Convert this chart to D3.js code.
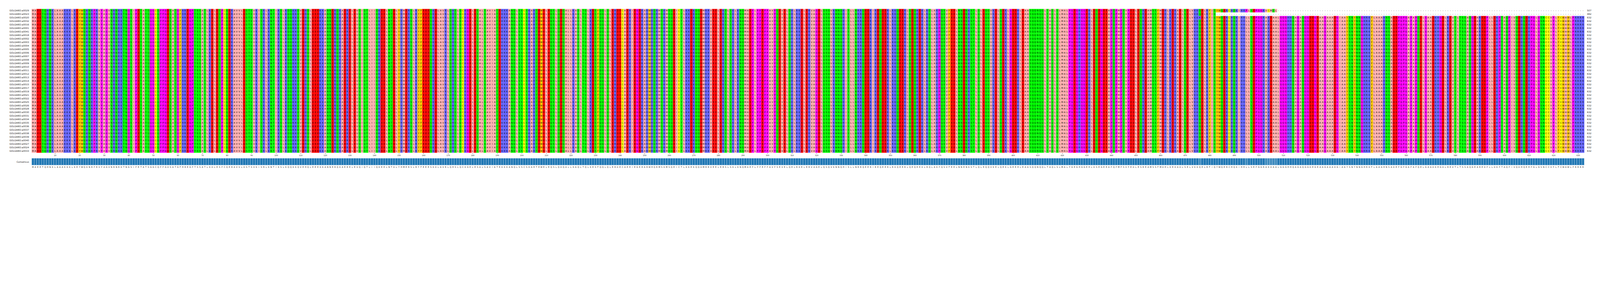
<!DOCTYPE html>
<html><head><meta charset="utf-8">
<script src="https://cdn.jsdelivr.net/npm/d3@7"></script>
<style>html,body{margin:0;background:#fff;overflow:hidden}svg{display:block;width:100vw;height:auto}text{font-family:"DejaVu Sans",sans-serif}</style>
</head><body><svg id="c" viewBox="0 0 6565 726" preserveAspectRatio="xMinYMin meet"></svg>
<script>
const consensusParts = [
"MAEETQHNKLAAAKKKLKEYWQKNRPRVPAGVNRNRKTNGSIPETATSGGCQPPGDSATGFHREGPTSSATLKDLESPC",
"QERAVVLDSTSVKISRLKNTIKSLKQQKKQVEHQLEEEKKANNERQKAERELEVQIQTLIIQKEELNTDLYHMERSLRYF",
"EEESKDLAVRLQHSLQCKGELESALSAVIATEKKKANQLSSCSKAHTEWELEQSLQDQALLKAQLTQLKESFQQLQLERD",
"ECAEHIEGERARWHQRMSKMSQEICTLKKEKQQDMRRVEELERSLSKLKNQMAEPLPPEPPAVPSEVELQHLRKELERVA",
"GELQSQVKNNQHISLLNRRQEERIREQEERLRKQEERLQEQHEKLRQLAKPQSVFEELNNENKSTLQLEQQVKELQEKLG",
"EEHLEAASQQNQQLTAQLSLMALPGEGHGGEHLDSEGEEAPQPMPSVPEDLESREAMSSFMDHLKEKADLSELVKKQELR",
"FIQYWQERCHQKIHHLLSEPGGRAKDAALGGGHHQAGAQGGDEGEAAGAAADGIAAYSNYNNGHRKFLAAAHNSADEPGP",
"GAPAPQELGAADKHGDLREVTLTSSAQGEAREDPLLDKPTAQPIVQDHQEHPGLGSNCCVPLFCWAWLPRRRR"];
const rowLabels = ["a0029","a0023","a0020","a0032","a0016","a0001","a0041","a0018",
"a0002","a0003","a0004","a0005","a0006","a0007","a0008","a0009","a0010","a0011","a0012","a0013",
"a0014","a0015","a0017","a0019","a0021","a0022","a0025","a0026","a0028","a0030","a0031","a0034",
"a0035","a0036","a0037","a0038","a0039","a0040","a0027","a0024","a0033"].map(d=>"GOLGA8O:"+d);
const rowLengths = [507,482];  // others 632
// variants: [row, column(0-based), residue]
const variants = [[0,494,"P"],[0,502,"V"],[0,503,"C"],[0,504,"M"],[0,505,"Q"],[0,506,"L"],[2,475,"K"]];
const tickValues = d3.range(10,633,10);

const cons = consensusParts.join("").split("");
const N = cons.length, R = rowLabels.length;
const rows = rowLabels.map((l,i)=>{
  const len = rowLengths[i] || N;
  return cons.map((c,j)=> j<len? c : "-");
});
variants.forEach(([r,c,a])=>{rows[r][c]=a;});
const colors = {A:"#ffafaf",I:"#ffafaf",L:"#ffafaf",M:"#ffafaf",V:"#ffafaf",F:"#ffc800",W:"#ffc800",Y:"#ffc800",
K:"#6464ff",R:"#6464ff",H:"#6464ff",D:"#ff0000",E:"#ff0000",S:"#00ff00",T:"#00ff00",N:"#00ff00",Q:"#00ff00",
P:"#ff00ff",G:"#ff00ff",C:"#ffff00","-":"#ffffff"};

const svg = d3.select("#c");
const x = d3.scaleBand().domain(d3.range(N)).range([130,130+N*10.08]).padding(0);
const y = d3.scaleBand().domain(d3.range(R)).range([36.5,625.7]).padding(0);
const cells=[];
rows.forEach((s,i)=>s.forEach((c,j)=>cells.push({i,j,c})));
const g = svg.append("g");
g.selectAll("rect").data(cells).join("rect")
 .attr("x",d=>x(d.j)).attr("y",d=>y(d.i)).attr("width",x.bandwidth()+0.3).attr("height",y.bandwidth()+0.3)
 .attr("fill",d=>colors[d.c]||"#fff");
g.selectAll("text").data(cells).join("text")
 .attr("x",d=>x(d.j)+x.bandwidth()/2).attr("y",d=>y(d.i)+y.bandwidth()/2+3.5)
 .attr("text-anchor","middle").attr("font-size",9.5).attr("fill","#111").text(d=>d.c);
svg.append("g").selectAll("text").data(rowLabels).join("text")
 .attr("x",119).attr("y",(d,i)=>y(i)+y.bandwidth()/2+3.5).attr("text-anchor","end")
 .attr("font-size",9.5).attr("fill","#222").text(d=>d);
svg.append("g").selectAll("text").data(rows).join("text")
 .attr("x",6512).attr("y",(d,i)=>y(i)+y.bandwidth()/2+3.5)
 .attr("font-size",9.5).attr("fill","#222").text((d,i)=>d.filter(c=>c!=="-").length);
const ax = d3.axisBottom(d3.scaleLinear().domain([0.5,N+0.5]).range([130,130+N*10.08]))
 .tickValues(tickValues).tickSize(4).tickFormat(d3.format("d"));
const axg = svg.append("g").attr("transform","translate(0,626.5)").call(ax);
axg.select(".domain").remove();
axg.selectAll("text").attr("font-size",7.5).attr("fill","#222").attr("dy","0.9em").style("font-family","DejaVu Sans");
axg.selectAll("line").attr("stroke","#333");
const cons2 = d3.range(N).map(j=>{
  const col = rows.map(r=>r[j]).filter(c=>c!=="-");
  const f = col.filter(c=>c===cons[j]).length/col.length;
  return {j,f,c:cons[j]};
});
const col = d3.scaleLinear().domain([0.9,1]).range(["#9ecae1","#1f77b4"]).clamp(true);
svg.append("g").selectAll("rect").data(cons2).join("rect")
 .attr("x",d=>x(d.j)).attr("y",648.5).attr("width",x.bandwidth()).attr("height",28)
 .attr("fill",d=>col(d.f)).attr("stroke","#d9e6f2").attr("stroke-width",0.8);
svg.append("text").attr("x",119).attr("y",666).attr("text-anchor","end").attr("font-size",9.5).attr("fill","#222").text("Consensus");
svg.append("g").selectAll("text").data(cons2).join("text")
 .attr("x",d=>x(d.j)+x.bandwidth()/2).attr("y",688).attr("text-anchor","middle")
 .attr("font-size",9).style("font-family","DejaVu Sans Condensed, DejaVu Sans").attr("fill","#222").text(d=>d.c);
</script></body></html>
